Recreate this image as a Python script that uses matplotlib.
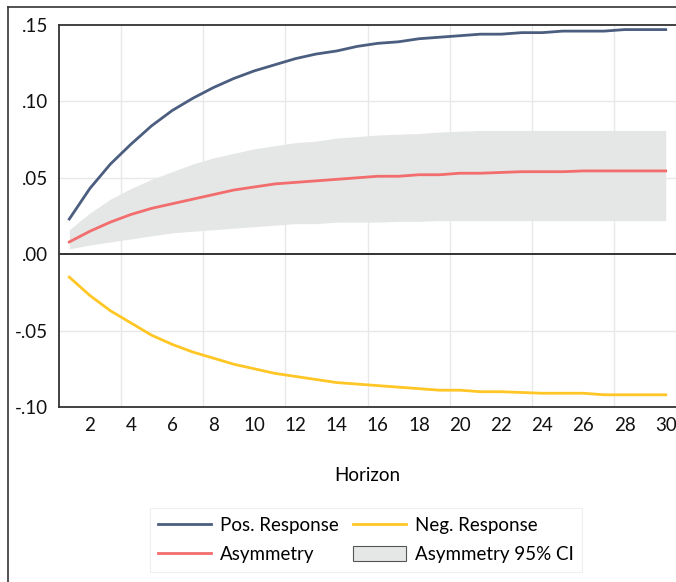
import matplotlib
matplotlib.use("Agg")
import matplotlib.pyplot as plt
from matplotlib.lines import Line2D
from matplotlib.patches import Patch
import numpy as np

horizon = list(range(1, 31))
pos_response = [0.023, 0.043, 0.059, 0.072, 0.084, 0.094, 0.102, 0.109, 0.115, 0.120,
                0.124, 0.128, 0.131, 0.133, 0.136, 0.138, 0.139, 0.141, 0.142, 0.143,
                0.144, 0.144, 0.145, 0.145, 0.146, 0.146, 0.146, 0.147, 0.147, 0.147]
neg_response = [-0.015, -0.027, -0.037, -0.045, -0.053, -0.059, -0.064, -0.068, -0.072, -0.075,
                -0.078, -0.080, -0.082, -0.084, -0.085, -0.086, -0.087, -0.088, -0.089, -0.089,
                -0.090, -0.090, -0.0905, -0.091, -0.091, -0.091, -0.092, -0.092, -0.092, -0.092]
asymmetry = [0.008, 0.015, 0.021, 0.026, 0.030, 0.033, 0.036, 0.039, 0.042, 0.044,
             0.046, 0.047, 0.048, 0.049, 0.050, 0.051, 0.051, 0.052, 0.052, 0.053,
             0.053, 0.0535, 0.054, 0.054, 0.054, 0.0545, 0.0545, 0.0545, 0.0545, 0.0545]
ci_upper = [0.016, 0.027, 0.036, 0.043, 0.049, 0.054, 0.059, 0.063, 0.066, 0.069,
            0.071, 0.073, 0.074, 0.076, 0.077, 0.078, 0.0785, 0.079, 0.080, 0.0805,
            0.081, 0.081, 0.081, 0.081, 0.081, 0.081, 0.081, 0.081, 0.081, 0.081]
ci_lower = [0.0035, 0.006, 0.008, 0.010, 0.012, 0.014, 0.015, 0.016, 0.017, 0.018,
            0.019, 0.020, 0.020, 0.021, 0.021, 0.021, 0.0215, 0.0215, 0.022, 0.022,
            0.022, 0.022, 0.022, 0.022, 0.022, 0.022, 0.022, 0.022, 0.022, 0.022]
x_ticks = list(range(2, 31, 2))
y_ticks = [-0.10, -0.05, 0.00, 0.05, 0.10, 0.15]
y_labels = ["-.10", "-.05", ".00", ".05", ".10", ".15"]

plt.rcParams['font.family'] = ['Lato', 'DejaVu Sans']
FS = 13.5

W, H = 676, 582
fig = plt.figure(figsize=(W / 100, H / 100), dpi=100)
ax = fig.add_axes([59 / W, 1 - 407 / H, (676 - 59) / W, (407 - 25) / H])

c_blue = "#4b5e7f"
c_yellow = "#ffc625"
c_red = "#f26d6d"
c_band = "#e5e6e6"

ax.fill_between(horizon, ci_lower, ci_upper, color=c_band, lw=0, zorder=1)
ax.plot(horizon, pos_response, color=c_blue, lw=2, zorder=3)
ax.plot(horizon, neg_response, color=c_yellow, lw=2, zorder=3)
ax.plot(horizon, asymmetry, color=c_red, lw=2, zorder=3)
ax.axhline(0, color="#222222", lw=1.3, zorder=2)

ax.set_xlim(0.5, 30.5)
ax.set_ylim(-0.10, 0.15)
ax.set_yticks(y_ticks)
ax.set_yticklabels(y_labels)
ax.set_xticks(x_ticks)
ax.tick_params(axis="both", which="both", length=0, labelsize=FS, colors="#111111")
ax.tick_params(axis="x", pad=7)
ax.tick_params(axis="y", pad=8)
for yv in [-0.05, 0.05, 0.10]:
    ax.axhline(yv, color="#e8e8e8", lw=1, zorder=0)
for xv in np.arange(3.5, 30, 4):
    ax.axvline(xv, color="#e8e8e8", lw=1, zorder=0)

for s in ["left", "top", "bottom"]:
    ax.spines[s].set_color("#333333")
    ax.spines[s].set_linewidth(1.3)
ax.spines["right"].set_visible(False)

ax.set_xlabel("Horizon", fontsize=FS, labelpad=24)

fig.add_artist(Line2D([8 / W, 8 / W], [0, 1 - 7 / H], color="#333333", lw=1.2))
fig.add_artist(Line2D([8 / W, 1], [1 - 7 / H, 1 - 7 / H], color="#333333", lw=1.2))

handles = [Line2D([], [], color=c_blue, lw=2),
           Line2D([], [], color=c_red, lw=2),
           Line2D([], [], color=c_yellow, lw=2),
           Patch(facecolor=c_band, edgecolor="#555555", lw=0.8)]
labels = ["Pos. Response", "Asymmetry", "Neg. Response", "Asymmetry 95% CI"]
leg = fig.legend(handles, labels, ncol=2, loc="upper left",
                 bbox_to_anchor=(150 / W, 1 - 508 / H), borderaxespad=0,
                 fontsize=FS, frameon=True, fancybox=False, edgecolor="#ebebeb",
                 handlelength=2.8, handleheight=0.9, handletextpad=0.5,
                 columnspacing=0.75, labelspacing=0.65, borderpad=0.45)
leg.get_frame().set_linewidth(0.8)

fig.savefig("out.png", dpi=100)
